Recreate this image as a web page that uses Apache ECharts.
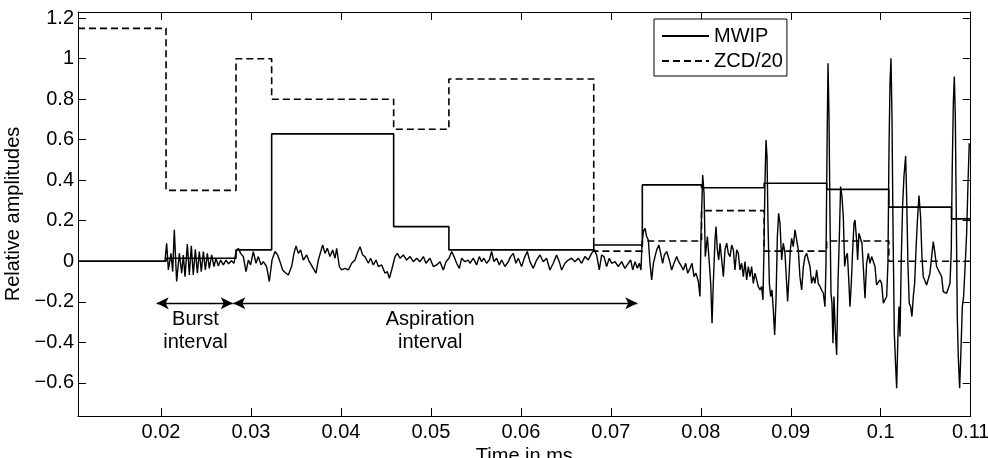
<!DOCTYPE html>
<html><head><meta charset="utf-8">
<script src="https://cdn.jsdelivr.net/npm/echarts@6/dist/echarts.min.js"></script>
<style>html,body{margin:0;padding:0;background:#fff}#c{width:988px;height:458px}</style>
</head><body><div id="c"></div>
<script>
// ---------------- data ----------------
const xTicks = [0.02, 0.03, 0.04, 0.05, 0.06, 0.07, 0.08, 0.09, 0.1, 0.11];
const yTicks = [-0.6, -0.4, -0.2, 0, 0.2, 0.4, 0.6, 0.8, 1, 1.2];
const xRange = [0.010775, 0.11];
const yRange = [-0.764, 1.2306];

// segment boundaries shared by both step curves (ms)
const stepEdges  = [0.010775, 0.02056, 0.02834, 0.0323, 0.04586, 0.0520, 0.0681, 0.0735, 0.08008, 0.08704, 0.09399, 0.1009, 0.10786, 0.11];
const mwipLevels = [0, 0.015, 0.056, 0.629, 0.171, 0.056, 0.08, 0.377, 0.363, 0.385, 0.355, 0.267, 0.209, 0.209];
const zcdLevels  = [1.15, 0.35, 1.0, 0.8, 0.652, 0.9, 0.05, 0.1, 0.25, 0.05, 0.1, 0, 0, 0];

// speech waveform [time, amplitude]
const signalBurst = [[0.010775,0],[0.02044,0],[0.02063,0.089],[0.02082,-0.043],[0.02111,0.039],[0.02130,-0.051],[0.02148,0.155],[0.02174,-0.100],[0.02204,0.039],[0.02230,-0.059],[0.02248,0.031],[0.02267,-0.076],[0.02293,0.085],[0.02315,-0.068],[0.02337,0.076],[0.02359,-0.068],[0.02382,0.059],[0.02404,-0.059],[0.02426,0.048],[0.02448,-0.051],[0.02471,0.048],[0.02493,-0.043],[0.02515,0.039],[0.02537,-0.035],[0.02563,0.031],[0.02589,-0.026],[0.02611,0.015],[0.02637,-0.023],[0.02663,0.006],[0.02693,-0.018],[0.02723,0.006],[0.02752,-0.013],[0.02782,0.003],[0.02811,-0.010]];
const signalAspiration = [[0.02834,0.048],[0.02860,0.064],[0.02885,0.039],[0.02915,0.023],[0.02945,-0.051],[0.02971,0.006],[0.02996,-0.018],[0.03026,0.048],[0.03056,-0.010],[0.03082,0.023],[0.03112,-0.018],[0.03137,-0.002],[0.03174,-0.026],[0.03204,-0.100],[0.03234,0.006],[0.03267,0.048],[0.03297,0.031],[0.03323,-0.002],[0.03352,-0.043],[0.03389,-0.059],[0.03415,-0.068],[0.03452,-0.026],[0.03478,0.039],[0.03501,0.076],[0.03526,0.039],[0.03552,0.056],[0.03582,0.006],[0.03619,0.031],[0.03649,-0.002],
[0.03723,-0.059],[0.03749,0.006],[0.03797,0.081],[0.03823,0.039],[0.03849,0.064],[0.03878,0.023],[0.03908,0.056],[0.03934,0.015],[0.03953,0.064],[0.03982,-0.026],[0.04008,-0.043],[0.04045,-0.035],[0.04082,-0.043],[0.04119,-0.010],[0.04156,0.006],[0.04182,0.039],[0.04212,0.072],[0.04242,0.031],[0.04267,0.023],[0.04305,-0.010],[0.04330,0.015],[0.04360,-0.018],[0.04390,0.006],[0.04416,-0.026],[0.04453,-0.018],[0.04490,-0.059],[0.04516,-0.051],[0.04538,-0.084],[0.04564,-0.043],[0.04601,0.023],[0.04627,0.039],[0.04657,0.015],[0.04694,0.031],[0.04731,0.006],[0.04768,0.023],[0.04805,-0.002],[0.04842,0.015],[0.04879,-0.002],[0.04916,0.023],[0.04945,-0.010],[0.04990,0.015],[0.05027,-0.026],[0.05064,-0.018],[0.05101,-0.002],[0.05138,-0.043],[0.05168,-0.002],[0.05201,0.015],[0.05231,0.048],[0.05257,0.023],[0.05286,-0.010],[0.05316,-0.035],[0.05342,0.015],[0.05379,-0.002],[0.05416,0.006],
[0.05434,-0.010],[0.05471,0.015],[0.05508,-0.018],[0.05538,0.023],[0.05564,-0.002],[0.05590,0.015],[0.05619,-0.010],[0.05649,0.006],[0.05675,0.048],[0.05701,-0.002],[0.05731,0.015],[0.05760,-0.018],[0.05786,0.006],[0.05823,-0.026],[0.05860,-0.002],[0.05886,0.023],[0.05916,0.039],[0.05945,-0.010],[0.05971,0.015],[0.06008,-0.026],[0.06045,0.023],[0.06071,0.048],[0.06101,-0.002],[0.06138,-0.035],[0.06175,0.006],[0.06212,0.031],[0.06249,-0.002],[0.06286,0.015],[0.06323,-0.043],[0.06360,-0.010],[0.06397,0.031],[0.06427,-0.002],[0.06453,-0.043],[0.06490,-0.010],[0.06527,0.006],[0.06564,0.015],[0.06601,-0.002],[0.06638,0.015],[0.06675,-0.010],[0.06712,0.023],[0.06749,0.006],[0.06786,0.039],[0.06816,0.056],[0.06842,0.031],[0.06872,-0.043],[0.06898,0.031],[0.06924,0.023],[0.06953,-0.026],[0.06983,0.015],[0.07009,-0.010],[0.07046,-0.002],[0.07083,-0.026],[0.07120,-0.002],[0.07157,-0.035],[0.07194,-0.010],
[0.07221,0.006],[0.07243,-0.043],[0.07269,-0.002],[0.07295,-0.035],[0.07317,-0.010],[0.07335,-0.043]];
const signalVoiced = [[0.07347,0.089],[0.07361,0.146],[0.07380,0.163],[0.07398,0.122],[0.07417,0.105],[0.07435,-0.010],[0.07454,-0.092],[0.07473,-0.010],[0.07491,0.023],[0.07510,0.056],[0.07535,0.080],[0.07554,0.039],[0.07576,-0.010],[0.07595,0.031],[0.07621,0.048],[0.07650,0.006],[0.07676,-0.043],[0.07702,-0.010],[0.07732,0.023],[0.07754,-0.002],[0.07776,-0.018],[0.07806,-0.043],[0.07832,-0.010],[0.07854,-0.059],[0.07880,-0.035],[0.07902,-0.010],[0.07925,-0.076],[0.07947,-0.059],[0.07973,-0.100],[0.07991,-0.174],[0.08002,0.122],[0.08010,0.253],[0.08021,0.426],[0.08036,0.336],[0.08050,0.023],[0.08073,0.122],[0.08095,-0.010],[0.08110,-0.109],[0.08125,-0.306],[0.08139,-0.109],[0.08158,0.105],[0.08169,0.171],[0.08184,0.056],[0.08199,0.006],[0.08214,0.089],[0.08232,0.097],[0.08251,-0.076],[0.08269,0.056],[0.08288,0.089],[0.08306,0.039],[0.08325,0.023],[0.08343,0.080],[0.08362,0.056],[0.08380,-0.043],[0.08399,0.056],[0.08417,0.039],
[0.08436,-0.043],[0.08454,-0.010],[0.08473,-0.076],[0.08491,-0.002],[0.08510,-0.092],[0.08528,-0.026],[0.08547,-0.076],[0.08565,-0.026],[0.08584,-0.109],[0.08602,-0.059],[0.08621,-0.092],[0.08639,-0.125],[0.08658,-0.142],[0.08676,-0.125],[0.08691,-0.191],[0.08702,0.056],[0.08713,0.385],[0.08725,0.599],[0.08736,0.517],[0.08747,0.188],[0.08762,-0.109],[0.08776,-0.174],[0.08791,-0.142],[0.08806,-0.240],[0.08821,-0.364],[0.08836,-0.191],[0.08851,0.122],[0.08865,0.237],[0.08880,0.188],[0.08899,0.006],[0.08917,0.089],[0.08936,0.039],[0.08954,-0.109],[0.08965,-0.199],[0.08980,-0.076],[0.08995,0.056],[0.09010,0.113],[0.09028,0.072],[0.09047,0.155],[0.09065,0.163],[0.09084,0.056],[0.09102,-0.076],[0.09121,-0.142],[0.09140,-0.026],[0.09158,0.023],[0.09177,0.039],[0.09195,0.006],[0.09214,-0.026],[0.09232,-0.109],[0.09251,-0.076],[0.09269,-0.109],[0.09288,-0.043],[0.09306,-0.109],[0.09325,-0.125],[0.09343,-0.142],[0.09362,-0.158],[0.09380,-0.224],[0.09391,-0.026],[0.09403,0.550],[0.09414,0.978],[0.09425,0.714],[0.09436,0.220],[0.09447,-0.158],[0.09458,-0.207],[0.09469,-0.405],[0.09480,-0.174],[0.09495,-0.339],[0.09510,-0.463],[0.09525,-0.109],[0.09540,0.122],[0.09554,0.369],[0.09569,0.319],[0.09584,0.220],[0.09599,-0.026],[0.09614,0.023],[0.09629,0.039],[0.09643,-0.076],[0.09658,-0.224],[0.09673,-0.109],[0.09688,0.056],[0.09703,0.188],
[0.09714,0.204],[0.09732,0.105],[0.09743,0.006],[0.09758,0.138],[0.09777,0.138],[0.09791,0.089],[0.09806,-0.026],[0.09825,-0.183],[0.09843,-0.010],[0.09862,0.039],[0.09880,-0.010],[0.09899,0.023],[0.09917,0.031],[0.09936,-0.026],[0.09954,-0.117],[0.09973,-0.125],[0.09991,-0.092],[0.10010,-0.109],[0.10029,-0.207],[0.10047,-0.216],[0.10066,-0.174],[0.10080,-0.010],[0.10092,0.550],[0.10103,0.879],[0.10114,1.002],[0.10125,0.714],[0.10136,0.188],[0.10151,-0.356],[0.10166,-0.520],[0.10177,-0.627],[0.10192,-0.356],[0.10203,-0.224],[0.10214,-0.372],[0.10229,0.023],[0.10243,0.270],[0.10258,0.418],[0.10277,0.520],[0.10288,0.319],[0.10303,-0.026],[0.10317,-0.207],[0.10332,-0.224],[0.10347,-0.273],[0.10362,-0.174],[0.10377,-0.109],[0.10392,0.056],[0.10406,0.188],[0.10425,0.324],[0.10443,0.220],[0.10458,0.023],[0.10473,-0.076],[0.10492,-0.076],[0.10510,-0.117],[0.10529,-0.109],[0.10547,-0.059],[0.10566,0.023],[0.10584,0.097],[0.10603,0.039],[0.10621,-0.026],[0.10640,-0.043],[0.10658,-0.059],[0.10677,-0.076],[0.10695,-0.150],[0.10714,-0.158],[0.10732,-0.158],[0.10751,-0.158],[0.10770,-0.109],[0.10784,0.056],[0.10795,0.467],[0.10807,0.780],[0.10818,0.912],[0.10829,0.714],[0.10840,0.220],[0.10851,-0.273],[0.10862,-0.471],[0.10877,-0.627],[0.10892,-0.438],[0.10907,-0.224],[0.10921,-0.174],[0.10936,-0.043],[0.10955,0.138],[0.10970,0.385],[0.10984,0.583]];

// annotations (data coordinates)
const intervalNames = ['Burst\ninterval', 'Aspiration\ninterval'];
const intervalStarts = [0.01952, 0.02804];
const intervalEnds = [0.02797, 0.07294];
const intervalArrowLevel = -0.207;
const intervalLabelX = [0.02383, 0.04992];
const intervalLabelY = -0.346;

// ---------------- chart ----------------
const FONT = "'Liberation Sans', Arial, Helvetica, sans-serif";
const fmt = v => { const s = String(+v.toFixed(4)); return v < 0 ? '\u2212' + s.slice(1) : s; };
const chart = echarts.init(document.getElementById('c'), null, {renderer: 'canvas'});
const axisCommon = {
  type: 'value',
  axisLine: {show: true, onZero: false, lineStyle: {color: '#000', width: 1}},
  splitLine: {show: false},
};
const signal = signalBurst.concat(signalAspiration, signalVoiced);
chart.setOption({
  animation: false,
  backgroundColor: '#fff',
  textStyle: {fontFamily: FONT},
  grid: {left: 78, right: 17.3, top: 12, bottom: 42, containLabel: false, outerBoundsMode: 'none'},
  legend: {
    data: ['MWIP', 'ZCD/20'], orient: 'vertical', left: 654, top: 19,
    padding: [7, 4, 5, 7], itemGap: 5, itemWidth: 47, itemHeight: 14,
    borderColor: '#000', borderWidth: 1, backgroundColor: '#fff',
    itemStyle: {opacity: 0},
    textStyle: {fontSize: 20, color: '#000', fontFamily: FONT},
    selectedMode: false
  },
  xAxis: [
    Object.assign({}, axisCommon, {
      min: xRange[0], max: xRange[1], position: 'bottom',
      axisTick: {show: true, inside: true, length: 8, customValues: xTicks, lineStyle: {color: '#000'}},
      axisLabel: {show: true, customValues: xTicks, formatter: fmt, fontSize: 20, color: '#000', margin: 6, fontFamily: FONT},
      name: 'Time in ms', nameLocation: 'middle', nameGap: 25,
      nameTextStyle: {fontSize: 20, color: '#000', fontFamily: FONT}
    }),
    Object.assign({}, axisCommon, {
      min: xRange[0], max: xRange[1], position: 'top',
      axisTick: {show: true, inside: true, length: 8, customValues: xTicks, lineStyle: {color: '#000'}},
      axisLabel: {show: false}
    })
  ],
  yAxis: [
    Object.assign({}, axisCommon, {
      min: yRange[0], max: yRange[1], position: 'left',
      axisTick: {show: true, inside: true, length: 8, customValues: yTicks, lineStyle: {color: '#000'}},
      axisLabel: {show: true, customValues: yTicks, formatter: fmt, fontSize: 20, color: '#000', margin: 4, fontFamily: FONT},
      name: 'Relative amplitudes', nameLocation: 'middle', nameGap: 44,
      nameTextStyle: {fontSize: 20, color: '#000', fontFamily: FONT}
    }),
    Object.assign({}, axisCommon, {
      min: yRange[0], max: yRange[1], position: 'right',
      axisTick: {show: true, inside: true, length: 8, customValues: yTicks, lineStyle: {color: '#000'}},
      axisLabel: {show: false}
    })
  ],
  series: [
    {
      name: 'signal', type: 'line', data: signal, symbol: 'none', showSymbol: false,
      lineStyle: {color: '#000', width: 1.4}, z: 2, silent: true,
      markLine: {
        silent: true, symbol: ['arrow', 'arrow'], symbolSize: [9, 12],
        label: {show: false},
        lineStyle: {color: '#000', width: 1.3, type: 'solid'},
        emphasis: {disabled: true},
        data: intervalStarts.map((s, i) => [
          {coord: [s, intervalArrowLevel]}, {coord: [intervalEnds[i], intervalArrowLevel]}
        ])
      }
    },
    {
      name: 'MWIP', type: 'line', step: 'end', symbol: 'none', showSymbol: false,
      data: stepEdges.map((t, i) => [t, mwipLevels[i]]),
      color: '#000', lineStyle: {color: '#000', width: 1.6, type: 'solid'}, z: 3, silent: true
    },
    {
      name: 'ZCD/20', type: 'line', step: 'end', symbol: 'none', showSymbol: false,
      data: stepEdges.map((t, i) => [t, zcdLevels[i]]),
      color: '#000', lineStyle: {color: '#000', width: 1.6, type: [7, 4]}, z: 3, silent: true
    }
  ]
});
// annotation texts placed through the axes' own scales
chart.setOption({
  graphic: intervalNames.map((n, i) => {
    const p = chart.convertToPixel({xAxisIndex: 0, yAxisIndex: 0}, [intervalLabelX[i], intervalLabelY]);
    return {
      type: 'text', x: p[0], y: p[1], silent: true, z: 10,
      style: {text: n, fill: '#000', fontSize: 20, lineHeight: 23, fontFamily: FONT,
        align: 'center', verticalAlign: 'middle'}
    };
  })
});
</script>
</body></html>
